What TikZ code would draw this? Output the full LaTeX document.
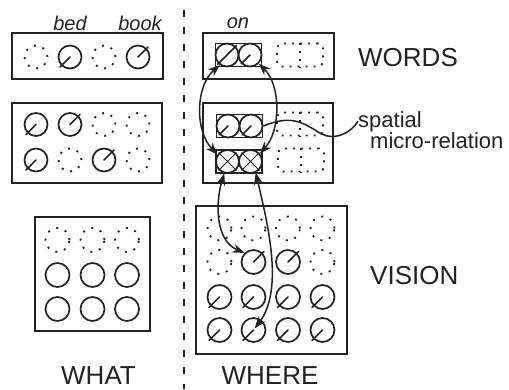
\documentclass[tikz,border=0pt]{standalone}
\usepackage{fontspec}
\setmainfont{Liberation Sans}
\usetikzlibrary{arrows.meta}
\definecolor{ink}{HTML}{222222}

\tikzset{
  unit/.style={circle, draw=ink, line width=1.7pt, minimum size=23pt, inner sep=0pt},
  idle/.style={unit, line width=1.8pt, dash pattern=on 2pt off 7pt},
  pool/.style={draw=ink, line width=1.6pt, inner sep=0pt},
  pair/.style={pool, minimum width=46pt, minimum height=23pt},
  idlepair/.style={pair, rounded corners=5pt, line width=1.8pt, dash pattern=on 2pt off 6pt},
  ray/.style={draw=ink, line width=1.6pt, line cap=round},
  link/.style={draw=ink, line width=1.5pt, {Stealth[length=12pt,width=9pt]}-{Stealth[length=12pt,width=9pt]}},
  areaname/.style={font=\fontsize{26}{28}\selectfont, text=ink, inner sep=0pt},
  wordname/.style={font=\fontsize{20}{22}\selectfont\itshape, text=ink, inner sep=0pt},
  notename/.style={font=\fontsize{22}{24}\selectfont, text=ink, inner sep=0pt, anchor=base west},
}

\begin{document}
\begin{tikzpicture}[x=1pt, y=-1pt]
    \useasboundingbox (0,0) rectangle (509,389);

    \draw[ink, line width=1.5pt, dash pattern=on 7pt off 10pt] (184,10) -- (184,389);

    \node[pool, minimum width=151pt, minimum height=46pt] (whatwords) at (87.5,56) {};
    \node[idle] (w1) at (36,57) {};
    \node[unit] (w2) at (70,57) {};
    \node[idle] (w3) at (104,57) {};
    \node[unit] (w4) at (138,57) {};
    \draw[ray, shorten <=-2pt] (w2.225) -- (w2.center);
    \draw[ray, shorten >=-2pt] (w4.center) -- (w4.45);
    \node[wordname, anchor=base] (bed) at (70,30) {bed};
    \node[wordname, anchor=base] (book) at (140,30) {book};

    \node[pool, minimum width=150pt, minimum height=80pt] (whatmid) at (87,143) {};
    \node[unit] (m11) at (36,124.5) {};
    \node[unit] (m12) at (70,124.5) {};
    \node[idle] (m13) at (104,124.5) {};
    \node[idle] (m14) at (138,124.5) {};
    \node[unit] (m21) at (36,160) {};
    \node[idle] (m22) at (70,160) {};
    \node[unit] (m23) at (104,160) {};
    \node[idle] (m24) at (138,160) {};
    \draw[ray, shorten <=-2pt] (m11.225) -- (m11.center);
    \draw[ray, shorten >=-2pt] (m12.center) -- (m12.45);
    \draw[ray, shorten <=-2pt] (m21.225) -- (m21.center);
    \draw[ray, shorten >=-2pt] (m23.center) -- (m23.45);

    \node[pool, minimum width=115pt, minimum height=114pt] (whatvis) at (92.5,274) {};
    \foreach \x [count=\c] in {57.5,92.5,127} {
        \node[idle, minimum size=24pt] (a1\c) at (\x,240) {};
        \node[unit, minimum size=24pt] (a2\c) at (\x,275) {};
        \node[unit, minimum size=24pt] (a3\c) at (\x,309) {};
    }

    \node[pool, minimum width=131pt, minimum height=46pt] (wherewords) at (268.5,56) {};
    \node[pair] (onpair) at (238.5,55) {};
    \node[unit] (wl) at (227,55) {};
    \node[unit] (wr) at (250,55) {};
    \draw[ray, shorten <=-1pt, shorten >=-1pt] (wl.225) -- (wl.45);
    \draw[ray] (wr.225) -- (wr.center);
    \node[idlepair] (offpair) at (300,55) {};
    \draw[ink, line width=1.8pt, dash pattern=on 2pt off 6pt] (offpair.north) -- (offpair.south);
    \node[wordname, anchor=base] (on) at (238,28) {on};

    \node[pool, minimum width=130pt, minimum height=80pt] (wheremid) at (268,143) {};
    \node[pair] (relpair) at (239.5,126) {};
    \node[unit] (sl) at (228,126) {};
    \node[unit] (sr) at (251,126) {};
    \draw[ray] (sl.225) -- (sl.center);
    \draw[ray] (sr.225) -- (sr.center);
    \node[pair] (lowpair) at (239,161.5) {};
    \node[unit] (ll) at (227.5,161.5) {};
    \node[unit] (lr) at (250.5,161.5) {};
    \draw[ray, line width=1pt] (ll.45) -- (ll.225) (ll.135) -- (ll.-45);
    \draw[ray, line width=1pt] (lr.45) -- (lr.225) (lr.135) -- (lr.-45);
    \node[idlepair] (offrel) at (300,124) {};
    \draw[ink, line width=1.8pt, dash pattern=on 2pt off 6pt] (offrel.north) -- (offrel.south);
    \node[idlepair] (offlow) at (301,160) {};
    \draw[ink, line width=1.8pt, dash pattern=on 2pt off 6pt] (offlow.north) -- (offlow.south);

    \node[pool, minimum width=151pt, minimum height=148pt] (wherevis) at (271.5,280) {};
    \foreach \x [count=\c] in {219.5,253.5,288,322.5} {
        \node[idle, minimum size=24pt] (v1\c) at (\x,228.5) {};
        \node[unit, minimum size=24pt] (v3\c) at (\x,297) {};
        \node[unit, minimum size=24pt] (v4\c) at (\x,330) {};
        \draw[ray, shorten <=-2pt] (v3\c.225) -- (v3\c.center);
        \draw[ray, shorten <=-2pt] (v4\c.225) -- (v4\c.center);
    }
    \node[idle, minimum size=24pt] (v21) at (219.5,262) {};
    \node[unit, minimum size=24pt] (v22) at (253.5,262) {};
    \node[unit, minimum size=24pt] (v23) at (288,262) {};
    \node[idle, minimum size=24pt] (v24) at (322.5,262) {};
    \draw[ray, shorten >=-2pt] (v22.center) -- (v22.45);
    \draw[ray, shorten >=-2pt] (v23.center) -- (v23.45);

    \draw[link] (wl.235) .. controls (196,85) and (194,130) .. (ll.145);
    \draw[link] (wr.-45) .. controls (281,85) and (281,130) .. (lr.40);
    \draw[link] (ll.-105) .. controls (216,200) and (214,240) .. (v22.135);
    \draw[link, shorten >=2pt] (lr.-65) .. controls (268,225) and (284,290) .. (v42.center);

    \node[notename] (spatial) at (358,127) {spatial};
    \node[notename] (micro) at (370,148) {micro-relation};
    \draw[ink, line width=1.5pt] (sr.east) .. controls (288,116) and (300,120) .. (318,132) .. controls (332,141) and (348,136) .. (spatial.west);

    \node[areaname, anchor=base west] (words) at (358,66) {WORDS};
    \node[areaname, anchor=base west] (vision) at (370,284) {VISION};
    \node[areaname, anchor=base] (what) at (98.5,384) {WHAT};
    \node[areaname, anchor=base] (where) at (270,384) {WHERE};
\end{tikzpicture}
\end{document}
